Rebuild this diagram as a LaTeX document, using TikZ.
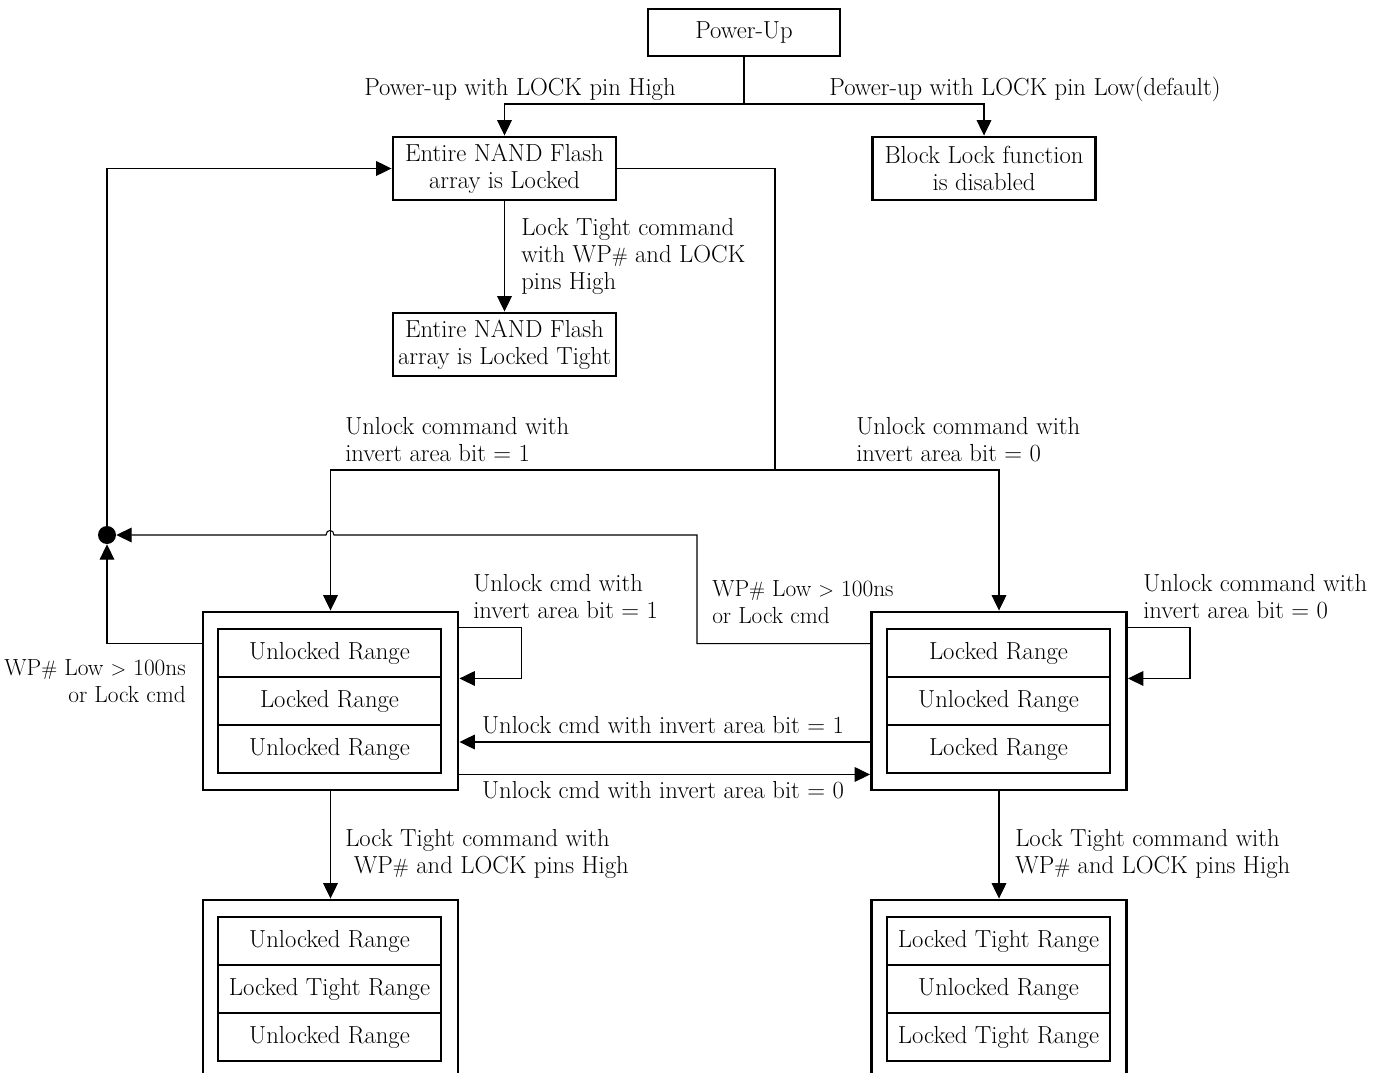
\documentclass[tikz,border=0pt]{standalone}
\usetikzlibrary{arrows.meta,calc}
\newcommand{\hsh}{{\fontsize{15.5}{18}\selectfont\#}}
\begin{document}
\begin{tikzpicture}[x=0.75pt,y=-0.75pt,
  font=\fontsize{18.5}{20.25}\selectfont,
  box/.style={draw,line width=2.2pt,align=center,inner sep=0pt},
  stbox/.style={box,minimum width=167.25pt,minimum height=47.25pt},
  outerbox/.style={draw,line width=2.2pt,minimum width=191.25pt,minimum height=133.5pt,inner sep=0pt},
  rowbox/.style={draw,line width=2.2pt,minimum width=167.25pt,minimum height=36pt,inner sep=0pt},
  conn/.style={line width=0.8pt},
  arr/.style={conn,-{Triangle[length=11.5pt,width=11pt]}},
  lbl/.style={inner sep=0pt,align=left},
  wplbl/.style={lbl,font=\fontsize{17.5}{20.25}\selectfont},
  dotnode/.style={circle,fill,minimum size=13.5pt,inner sep=0pt}]
\clip (0,0) rectangle (1388,1073);
% boxes
\node[box,minimum width=144pt,minimum height=35.25pt] (PU) at (744,32.5) {Power-Up};
\node[stbox] (EL) at (504.5,168.5) {Entire NAND Flash\\array is Locked};
\node[stbox] (BL) at (984,168.5) {Block Lock function\\is disabled};
\node[stbox] (ELT) at (504.5,344.5) {Entire NAND Flash\\array is Locked Tight};
\node[outerbox] (L) at (330.5,701) {};
\node[rowbox] (L1) at (329.5,653) {Unlocked Range};
\node[rowbox] (L2) at (329.5,701) {Locked Range};
\node[rowbox] (L3) at (329.5,749) {Unlocked Range};
\node[outerbox] (R) at (999,701) {};
\node[rowbox] (R1) at (998.5,653) {Locked Range};
\node[rowbox] (R2) at (998.5,701) {Unlocked Range};
\node[rowbox] (R3) at (998.5,749) {Locked Range};
\node[outerbox] (LB) at (330.5,989) {};
\node[rowbox] (LB1) at (329.5,941) {Unlocked Range};
\node[rowbox] (LB2) at (329.5,989) {Locked Tight Range};
\node[rowbox] (LB3) at (329.5,1037) {Unlocked Range};
\node[outerbox] (RB) at (999,989) {};
\node[rowbox] (RB1) at (998.5,941) {Locked Tight Range};
\node[rowbox] (RB2) at (998.5,989) {Unlocked Range};
\node[rowbox] (RB3) at (998.5,1037) {Locked Tight Range};
\node[dotnode] (D) at (107,535) {};
% connectors
\coordinate (j1) at (744,104);
\draw[conn] (PU.south) -- (j1);
\draw[arr] (j1) -| (EL.north);
\draw[arr] (j1) -| (BL.north);
\draw[arr] (EL.south) -- (ELT.north);
\coordinate (j2) at (775,470);
\draw[conn] (EL.east) -| (j2);
\draw[arr] (j2) -| (L.north);
\draw[arr] (j2) -| (R.north);
\draw[arr] (D.north) |- (EL.west);
\draw[arr] ($(L.north west)+(0,33)$) -| (D.south);
\coordinate (j3) at (697,535);
\draw[arr] ($(R.north west)+(0,33)$) -| (j3) -- (334,535) .. controls (334,529) and (326,529) .. (326,535) -- (D.east);
\draw[arr] (L.east |- L1.north) -- ++(62,0) |- (L.east |- L1.south);
\draw[arr] (R.east |- R1.north) -- ++(62,0) |- (R.east |- R1.south);
\draw[arr] ($(R.west)+(0,41)$) -- ($(L.east)+(0,41)$);
\draw[arr] (L.east |- L3.south) -- (R.west |- L3.south);
\draw[arr] (L.south) -- (LB.north);
\draw[arr] (R.south) -- (RB.north);
% labels
\node[lbl] (t1) at (520,89) {Power-up with LOCK pin High};
\node[lbl] (t2) at (1025,89) {Power-up with LOCK pin Low(default)};
\node[lbl,anchor=west] (t3) at (521,256) {Lock Tight command\\with WP\hsh{} and LOCK\\pins High};
\node[lbl,anchor=west] (t4) at (345,439.5) {Unlock command with\\invert area bit = 1};
\node[lbl,anchor=west] (t5) at (856,439.5) {Unlock command with\\invert area bit = 0};
\node[lbl,anchor=west] (t6) at (473,597) {Unlock cmd with\\invert area bit = 1};
\node[lbl,anchor=west] (t7) at (1143,597) {Unlock command with\\invert area bit = 0};
\node[wplbl,anchor=east,align=right] (t8) at (186,681) {WP\hsh{} Low {\fontsize{15.5}{18}\selectfont >} 100ns\\or Lock cmd};
\node[wplbl,anchor=west] (t9) at (712,602.5) {WP\hsh{} Low {\fontsize{15.5}{18}\selectfont >} 100ns\\or Lock cmd};
\node[lbl] (t10) at (663,725) {Unlock cmd with invert area bit = 1};
\node[lbl] (t11) at (663,790) {Unlock cmd with invert area bit = 0};
\node[lbl,anchor=west] (t12) at (345,853.5) {Lock Tight command with\\\hspace{0.35em}WP\hsh{} and LOCK pins High};
\node[lbl,anchor=west] (t13) at (1015,853.5) {Lock Tight command with\\WP\hsh{} and LOCK pins High};
\end{tikzpicture}
\end{document}
